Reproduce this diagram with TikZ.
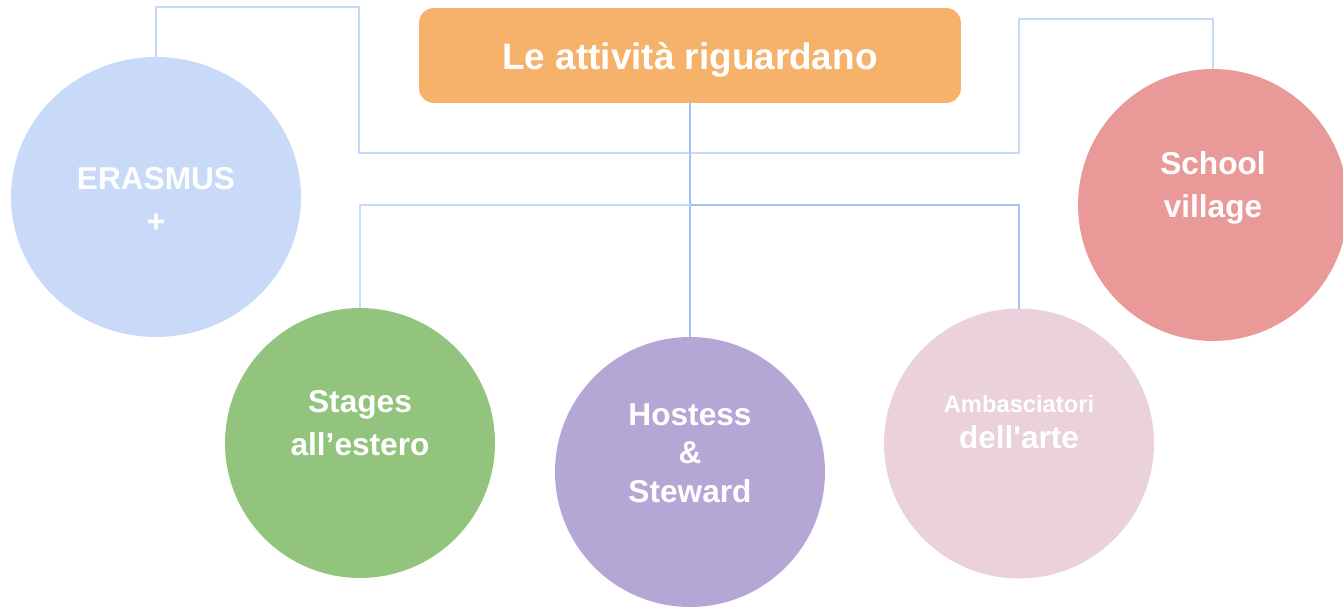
\documentclass[tikz,border=0pt]{standalone}
\usepackage{fontspec}
\setmainfont{Liberation Sans}
\usetikzlibrary{shapes.geometric}

\definecolor{tangerine}{HTML}{F6B26B}
\definecolor{skyblue}{HTML}{C9DAF8}
\definecolor{sage}{HTML}{93C47D}
\definecolor{lavender}{HTML}{B4A7D6}
\definecolor{blush}{HTML}{EAD1DC}
\definecolor{salmon}{HTML}{EA9999}
\definecolor{linkblue}{HTML}{A4C2F4}

\tikzset{
  bubble/.style={ellipse, draw=none, outer sep=0pt, minimum width=5.4cm, minimum height=5.4cm},
  caption/.style={text=white, align=center, font=\fontsize{18}{24.5}\selectfont\bfseries},
  faint/.style={draw=skyblue, line width=0.8pt},
  tree/.style={draw=linkblue, line width=0.8pt}
}

\begin{document}
\begin{tikzpicture}[x=0.02cm, y=-0.02cm]
  \useasboundingbox (0,0) rectangle (1343,607);
  %nodes
  \node[fill=tangerine, rounded corners=0.3cm, outer sep=0pt, minimum width=10.84cm, minimum height=1.9cm,
        text height=0.65cm, text depth=0.07cm,
        text=white, font=\fontsize{21}{25}\selectfont\bfseries] (title) at (690,55.5) {Le attività riguardano};
  \node[bubble, fill=skyblue, minimum width=5.8cm, minimum height=5.6cm] (erasmus) at (156,197) {};
  \node[bubble, fill=sage] (stages) at (360,443) {};
  \node[bubble, fill=lavender] (hostess) at (690,472) {};
  \node[bubble, fill=blush] (ambasciatori) at (1019,443.5) {};
  \node[bubble, fill=salmon, minimum height=5.44cm] (school) at (1213,205) {};
  \coordinate (hub) at (690,205);
  %labels
  \node[caption] (erasmustext) at (156,199.5) {ERASMUS\\+};
  \node[caption] (stagestext) at (360,423.5) {Stages\\all’estero};
  \node[caption, font=\fontsize{18}{21.9}\selectfont\bfseries] (hostesstext) at (690,453) {Hostess\\\&\\Steward};
  \node[caption] (schooltext) at (1213,188) {School\\village};
  \node[caption, font=\fontsize{18}{20}\selectfont\bfseries] (ambasciatoritext) at (1019,422)
       {{\fontsize{13.5}{20}\selectfont Ambasciatori}\\dell\textquotesingle arte};
  %links
  \draw[faint] (erasmus.north) |- (359,7) |- (1019,153) -- (1019,19) -| (school.north);
  \draw[tree] (title.south) -- (hostess.north);
  \draw[faint] (stages.north) |- (hub);
  \draw[tree] (hub) -| (ambasciatori.north);
\end{tikzpicture}
\end{document}
